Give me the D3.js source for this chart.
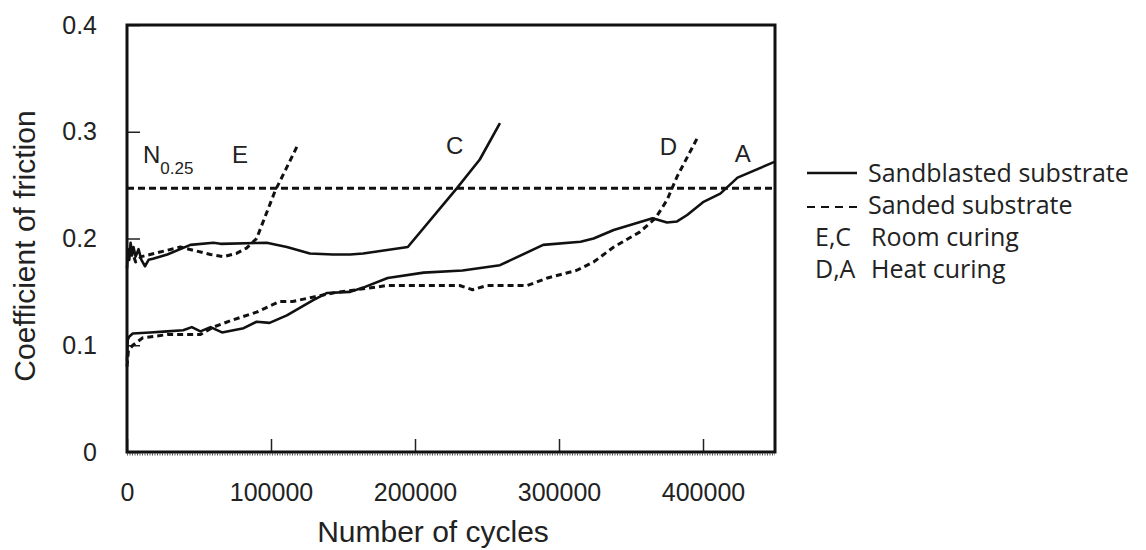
<!DOCTYPE html>
<html>
<head>
<meta charset="utf-8">
<script src="https://cdn.jsdelivr.net/npm/d3@7"></script>
<style>
  body { margin: 0; background: #fff; }
  svg text { fill: #222; }
</style>
</head>
<body>
<div id="chart"></div>
<script>
// values: [cycles, coefficient]
var seriesC = [ // sandblasted, room curing
  [0, 0.172], [800, 0.19], [1600, 0.18], [2500, 0.196], [3500, 0.184], [4500, 0.192],
  [6000, 0.183], [8000, 0.19], [10000, 0.18], [12500, 0.174], [15000, 0.18],
  [18000, 0.181], [28000, 0.185], [44000, 0.194], [60000, 0.196], [65000, 0.195],
  [97000, 0.196], [111000, 0.192], [127000, 0.186], [143000, 0.185], [155000, 0.185],
  [164000, 0.186], [195000, 0.192], [229000, 0.247], [245000, 0.274], [259000, 0.308]
];
var seriesE = [ // sanded, room curing
  [0, 0.18], [3000, 0.19], [6000, 0.178], [10000, 0.183], [16000, 0.185],
  [28000, 0.189], [37000, 0.192], [46000, 0.189], [58000, 0.185], [67000, 0.183],
  [76000, 0.186], [83000, 0.191], [90000, 0.2], [103000, 0.245], [110000, 0.264],
  [118000, 0.286]
];
var seriesA = [ // sandblasted, heat curing
  [0, 0.085], [500, 0.105], [1500, 0.108], [4000, 0.111], [16000, 0.112],
  [28000, 0.113], [39000, 0.114], [45000, 0.117], [51000, 0.113], [58000, 0.117],
  [66000, 0.112], [81000, 0.116], [90000, 0.122], [99000, 0.121], [111000, 0.128],
  [129000, 0.142], [139000, 0.149], [155000, 0.15], [164000, 0.154], [181000, 0.163],
  [206000, 0.168], [233000, 0.17], [259000, 0.175], [289000, 0.194], [315000, 0.197],
  [324000, 0.2], [338000, 0.208], [365000, 0.219], [375000, 0.215], [382000, 0.216],
  [389000, 0.222], [400000, 0.234], [412000, 0.242], [424000, 0.257], [450000, 0.272]
];
var seriesD = [ // sanded, heat curing
  [0, 0.08], [1000, 0.095], [4000, 0.1], [11000, 0.107], [28000, 0.11],
  [51000, 0.11], [60000, 0.117], [74000, 0.124], [90000, 0.131], [106000, 0.141],
  [115000, 0.141], [129000, 0.145], [143000, 0.149], [181000, 0.156], [231000, 0.156],
  [240000, 0.152], [250000, 0.156], [278000, 0.156], [292000, 0.163], [312000, 0.17],
  [324000, 0.178], [338000, 0.192], [356000, 0.206], [367000, 0.219], [375000, 0.236],
  [382000, 0.258], [389000, 0.276], [396000, 0.294]
];
var n025 = 0.247;
var xTicks = [0, 100000, 200000, 300000, 400000];
var yTicks = [0, 0.1, 0.2, 0.3, 0.4];
var curveLabels = [
  {text: "E", x: 73000, y: 0.271},
  {text: "C", x: 221500, y: 0.279},
  {text: "D", x: 370000, y: 0.278},
  {text: "A", x: 422000, y: 0.272}
];
var legendRows = ["Sandblasted substrate", "Sanded substrate"];
var curingRows = [["E,C", "Room curing"], ["D,A", "Heat curing"]];

var width = 1146, height = 550;
var plotL = 127, plotR = 775, plotT = 25, plotB = 452;
var axisFont = "'Liberation Sans', Arial, sans-serif";
var legendFont = "'Open Sans', sans-serif";

var svg = d3.select("#chart").append("svg")
  .attr("width", width)
  .attr("height", height);

/* Scales */
var x = d3.scaleLinear().domain([0, 450000]).range([plotL, plotR]);
var y = d3.scaleLinear().domain([0, 0.4]).range([plotB, plotT]);

/* Axes, ticks pointing inward */
var xAxis = d3.axisBottom(x).tickValues(xTicks).tickSize(-13).tickPadding(31)
  .tickFormat(d3.format("d"));
var yAxis = d3.axisLeft(y).tickValues(yTicks).tickSize(-13).tickPadding(30)
  .tickFormat(function(d) { return d === 0 ? "0" : d3.format(".1f")(d); });

var gx = svg.append("g")
  .attr("transform", `translate(0, ${plotB})`)
  .call(xAxis);
var gy = svg.append("g")
  .attr("transform", `translate(${plotL}, 0)`)
  .call(yAxis);

[gx, gy].forEach(function(g) {
  g.select(".domain").remove();
  g.selectAll(".tick line").attr("stroke", "#222").attr("stroke-width", 1.5);
  g.selectAll(".tick text")
    .style("font-family", axisFont)
    .style("font-size", "25px")
    .attr("fill", "#222");
});

// the fuzzy minor-tick look under the bottom edge
svg.append("line")
  .attr("x1", plotL).attr("x2", plotR)
  .attr("y1", plotB + 2.5).attr("y2", plotB + 2.5)
  .attr("stroke", "#555")
  .attr("stroke-width", 2)
  .attr("stroke-dasharray", "1,1.5");

/* Frame */
svg.append("rect")
  .attr("x", plotL).attr("y", plotT)
  .attr("width", plotR - plotL).attr("height", plotB - plotT)
  .attr("fill", "none")
  .attr("stroke", "#111")
  .attr("stroke-width", 3);

/* Axis titles */
svg.append("text")
  .attr("x", 433).attr("y", 542)
  .attr("text-anchor", "middle")
  .style("font-family", axisFont)
  .style("font-size", "30px")
  .text("Number of cycles");

svg.append("text")
  .attr("transform", "translate(35, 246) rotate(-90)")
  .attr("text-anchor", "middle")
  .style("font-family", axisFont)
  .style("font-size", "30px")
  .text("Coefficient of friction");

/* N0.25 threshold */
svg.append("line")
  .attr("x1", x(0)).attr("x2", x(450000))
  .attr("y1", y(n025)).attr("y2", y(n025))
  .attr("stroke", "#111")
  .attr("stroke-width", 3)
  .attr("stroke-dasharray", "7,4");

var nLabel = svg.append("text")
  .attr("x", 143).attr("y", 163)
  .style("font-family", axisFont)
  .style("font-size", "24px");
nLabel.append("tspan").text("N");
nLabel.append("tspan")
  .attr("dy", 11)
  .style("font-size", "17px")
  .text("0.25");

/* Curves */
var line = d3.line()
  .x(d => x(d[0]))
  .y(d => y(d[1]));

var curves = [
  {data: seriesC, dash: null},
  {data: seriesA, dash: null},
  {data: seriesE, dash: "6,4"},
  {data: seriesD, dash: "6,4"}
];

svg.append("g").selectAll("path")
  .data(curves).enter()
  .append("path")
  .attr("d", d => line(d.data))
  .attr("fill", "none")
  .attr("stroke", "#111")
  .attr("stroke-width", d => d.dash ? 3 : 2.6)
  .attr("stroke-linejoin", "round")
  .attr("stroke-dasharray", d => d.dash);

svg.append("g").selectAll("text")
  .data(curveLabels).enter()
  .append("text")
  .attr("x", d => x(d.x))
  .attr("y", d => y(d.y))
  .style("font-family", axisFont)
  .style("font-size", "24px")
  .text(d => d.text);

/* Legend */
var legend = svg.append("g").attr("transform", "translate(807, 0)");

legend.selectAll("line")
  .data(legendRows).enter()
  .append("line")
  .attr("x1", 0).attr("x2", 50)
  .attr("y1", (d, i) => 173 + i * 34)
  .attr("y2", (d, i) => 173 + i * 34)
  .attr("stroke", "#111")
  .attr("stroke-width", (d, i) => i ? 2 : 2.5)
  .attr("stroke-dasharray", (d, i) => i ? "8,6" : null);

legend.selectAll("text.lab")
  .data(legendRows).enter()
  .append("text")
  .attr("class", "lab")
  .attr("x", 61)
  .attr("y", (d, i) => 182 + i * 32)
  .style("font-family", legendFont)
  .style("font-size", "25px")
  .text(d => d);

var cure = legend.selectAll("g.cure")
  .data(curingRows).enter()
  .append("g")
  .attr("class", "cure")
  .attr("transform", (d, i) => `translate(0, ${246 + i * 32})`);
cure.append("text")
  .attr("x", 8)
  .style("font-family", legendFont)
  .style("font-size", "25px")
  .text(d => d[0]);
cure.append("text")
  .attr("x", 64)
  .style("font-family", legendFont)
  .style("font-size", "25px")
  .text(d => d[1]);
</script>
</body>
</html>
